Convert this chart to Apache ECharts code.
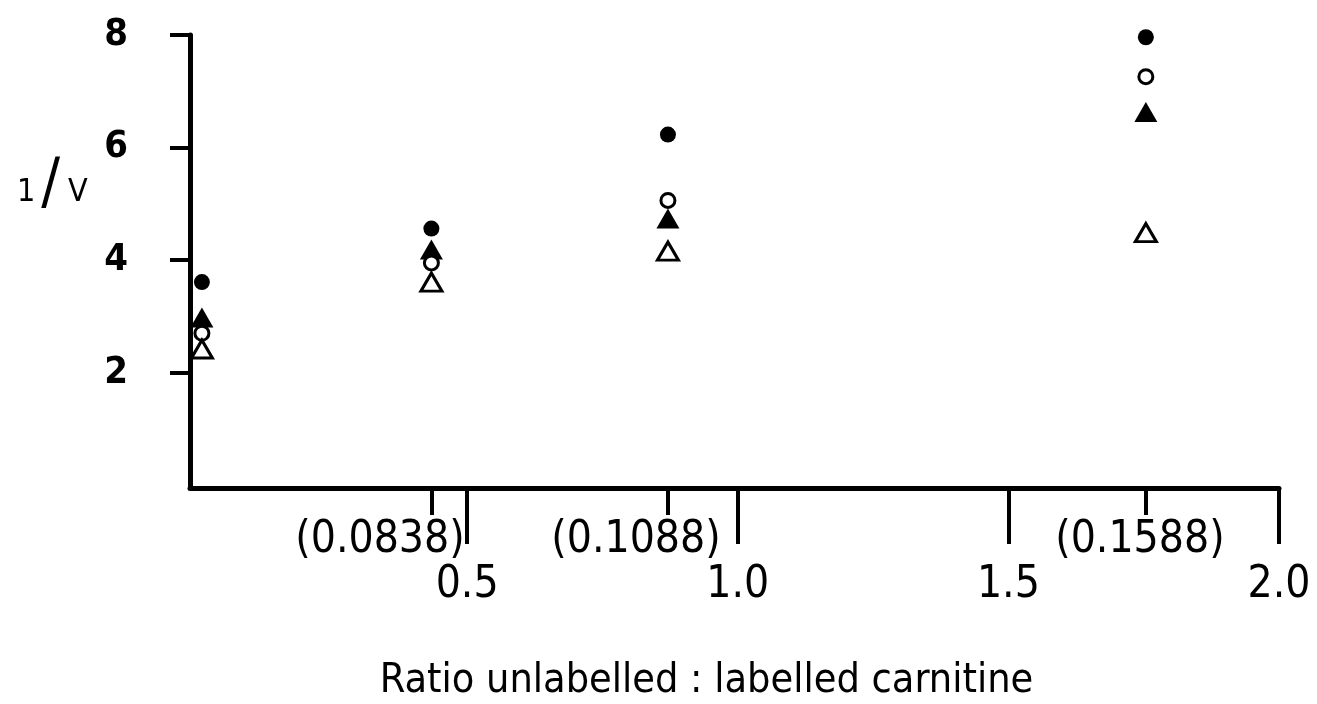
<!DOCTYPE html>
<html>
<head>
<meta charset="utf-8">
<script src="https://cdn.jsdelivr.net/npm/echarts@6/dist/echarts.min.js"></script>
<style>
  html,body{margin:0;padding:0;background:#fff;}
  #chart{width:1317px;height:704px;}
</style>
</head>
<body>
<div id="chart"></div>
<script>
// data
var groupX = [0.010, 0.434, 0.871, 1.754]
var filledCircle = [3.61, 4.56, 6.23, 7.96]
var openCircle = [2.70, 3.95, 5.06, 7.26]
var filledTriangle = [2.98, 4.19, 4.74, 6.63]
var openTriangle = [2.42, 3.61, 4.16, 4.49]

var xTicks = [0.5, 1.0, 1.5, 2.0]
var yTicks = [2, 4, 6, 8]
var ratioLabels = ['(0.0838)', '(0.1088)', '(0.1588)']
var ratioLabelX = [0.339, 0.812, 1.743]
var ratioTickX = [0.434, 0.871, 1.754]

var font = "'Liberation Sans Narrow', 'DejaVu Sans Condensed', sans-serif"

function pairs(ys){
  return ys.map(function(y, i){ return [groupX[i], y] })
}

var chartsDom = document.getElementById('chart')
var myChart = echarts.init(chartsDom)
var option

option = {
  backgroundColor: '#fff',
  animation: false,
  title: {
    text: '{a|1}{s|/}{a|V}',
    left: 12,
    top: 150,
    textStyle: {
      fontWeight: 'normal',
      rich: {
        a: { fontFamily: font, fontSize: 32, fontWeight: 'normal', color: '#000', verticalAlign: 'middle', padding: [14, 0, 0, 0] },
        s: { fontFamily: font, fontSize: 62, fontWeight: 'normal', color: '#000', verticalAlign: 'middle', padding: [0, 8, 0, 6] }
      }
    }
  },
  grid: {
    left: 190,
    right: 38,
    top: 35,
    bottom: 216,
    containLabel: false,
    outerBoundsMode: 'none'
  },
  xAxis: [{
    type: 'value',
    min: -0.012,
    max: 2.0,
    name: 'Ratio unlabelled : labelled carnitine',
    nameLocation: 'middle',
    nameGap: 173,
    nameTextStyle: { fontFamily: font, fontSize: 41, color: '#000', padding: [0, 56, 0, 0] },
    splitLine: { show: false },
    axisLine: { show: true, onZero: false, lineStyle: { color: '#000', width: 5 } },
    axisTick: { show: true, customValues: xTicks, length: 56, lineStyle: { color: '#000', width: 4 } },
    axisLabel: {
      customValues: xTicks,
      margin: 76,
      fontFamily: font,
      fontSize: 44,
      color: '#000',
      formatter: function(v){ return v.toFixed(1) }
    }
  }, {
    type: 'value',
    min: -0.012,
    max: 2.0,
    position: 'bottom',
    splitLine: { show: false },
    axisLine: { show: false, onZero: false },
    axisTick: { show: true, customValues: ratioTickX, length: 27, lineStyle: { color: '#000', width: 4 } },
    axisLabel: {
      customValues: ratioLabelX,
      margin: 31,
      fontFamily: font,
      fontSize: 44,
      color: '#000',
      formatter: function(v){
        var k = 0
        ratioLabelX.forEach(function(x, i){ if (Math.abs(x - v) < Math.abs(ratioLabelX[k] - v)) k = i })
        return ratioLabels[k]
      }
    }
  }],
  yAxis: {
    type: 'value',
    min: -0.05,
    max: 8,
    splitLine: { show: false },
    axisLine: { show: true, onZero: false, lineStyle: { color: '#000', width: 5 } },
    axisTick: { show: true, customValues: yTicks, length: 20, lineStyle: { color: '#000', width: 4 } },
    axisLabel: {
      customValues: yTicks,
      margin: 62,
      fontFamily: font,
      fontSize: 38,
      fontWeight: 'bold',
      color: '#000'
    }
  },
  series: [{
    name: 'filled circle',
    type: 'scatter',
    data: pairs(filledCircle),
    symbol: 'circle',
    symbolSize: 16,
    itemStyle: { color: '#000', opacity: 1 }
  }, {
    name: 'filled triangle',
    type: 'scatter',
    data: pairs(filledTriangle),
    symbol: 'triangle',
    symbolSize: [23, 20],
    itemStyle: { color: '#000', opacity: 1 }
  }, {
    name: 'open circle',
    type: 'scatter',
    data: pairs(openCircle),
    symbol: 'circle',
    symbolSize: 14,
    itemStyle: { color: '#fff', borderColor: '#000', borderWidth: 3, opacity: 1 }
  }, {
    name: 'open triangle',
    type: 'scatter',
    data: pairs(openTriangle),
    symbol: 'triangle',
    symbolSize: [21, 18],
    itemStyle: { color: '#fff', borderColor: '#000', borderWidth: 3, opacity: 1 }
  }]
}

myChart.setOption(option)
</script>
</body>
</html>
